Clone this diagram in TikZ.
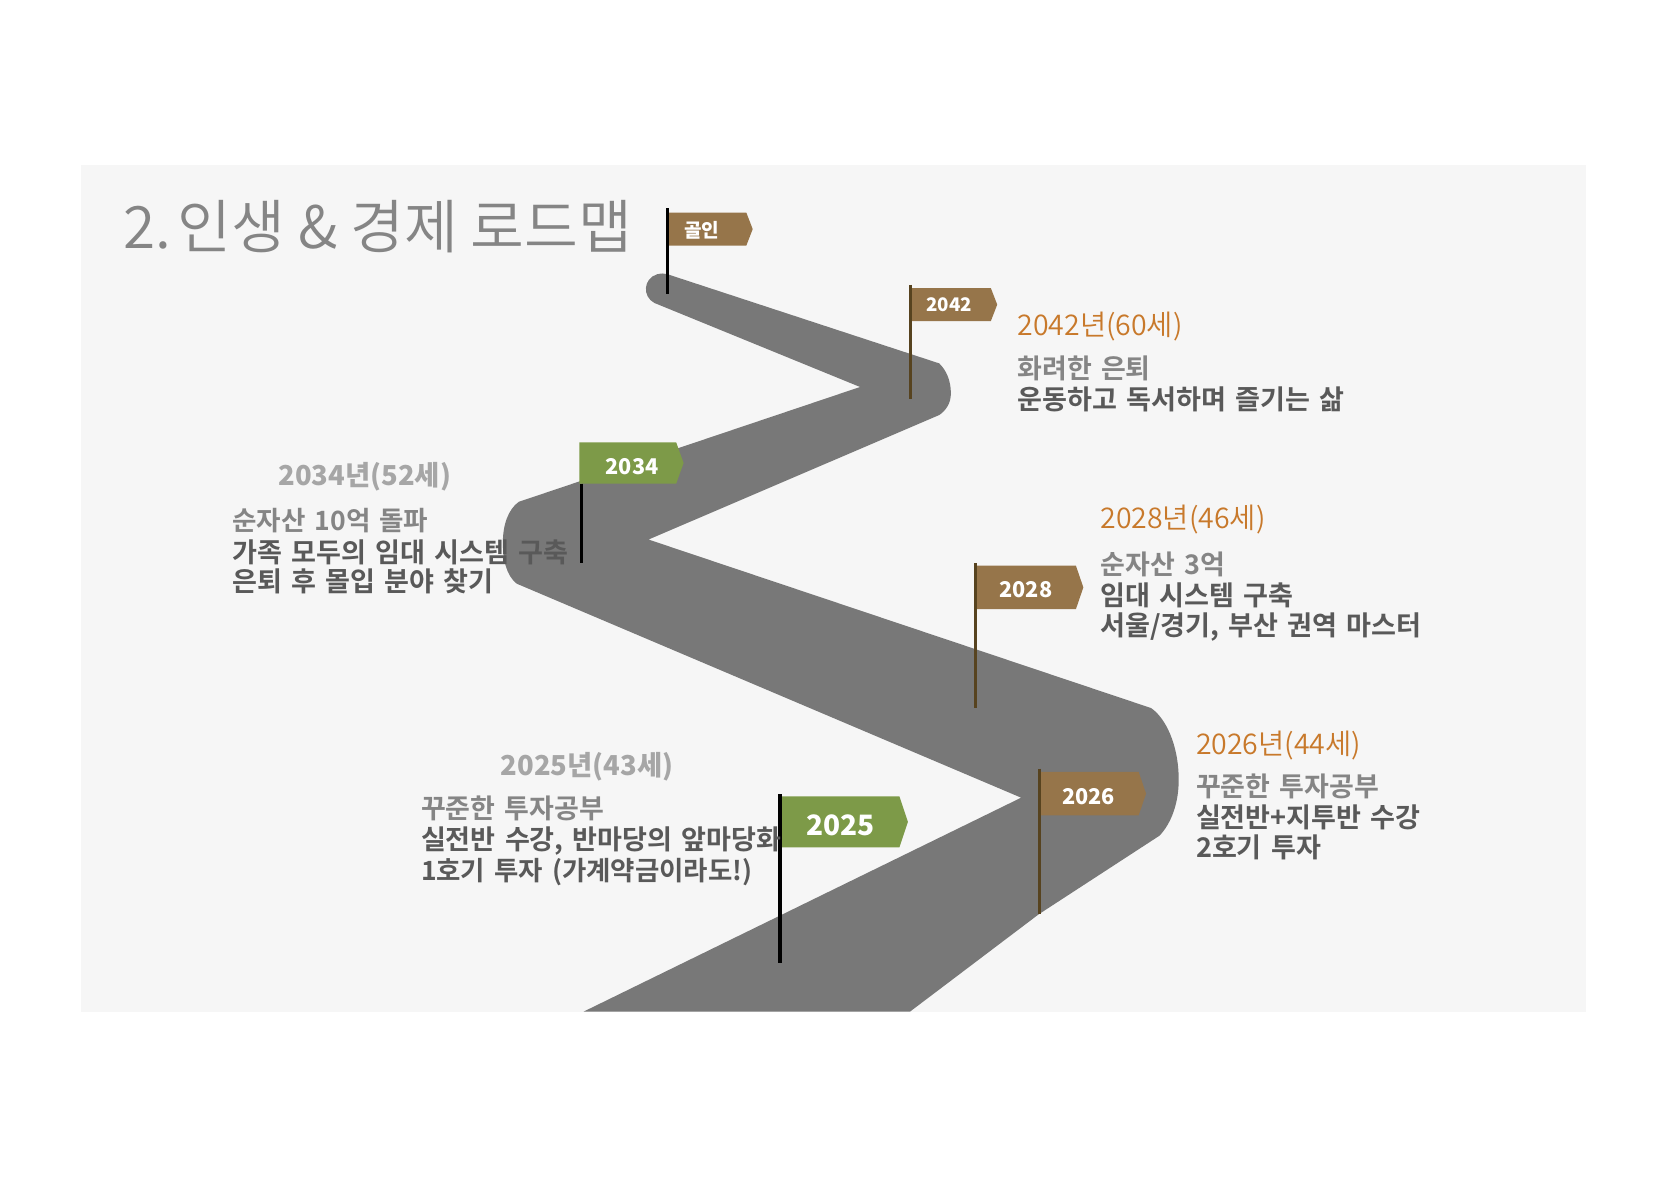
\documentclass[tikz,border=0pt]{standalone}
\usepackage{fontspec}
\setmainfont{Noto Sans CJK KR}
\newfontfamily\titlefont[WordSpace=0.25]{Noto Sans CJK KR DemiLight}
\newfontfamily\yearfont{Noto Sans CJK KR DemiLight}
\newfontfamily\bodyfont[WordSpace=1.5]{Noto Sans CJK KR Bold}
\definecolor{panelbg}{HTML}{F6F6F6}
\definecolor{roadgray}{HTML}{787878}
\definecolor{flagbrown}{HTML}{96754A}
\definecolor{flaggreen}{HTML}{7D9A48}
\definecolor{polebrown}{HTML}{57431F}
\definecolor{yearorange}{HTML}{C8792B}
\definecolor{yeargray}{HTML}{A6A6A6}
\definecolor{headgray}{HTML}{858585}
\definecolor{bodygray}{HTML}{595959}
\tikzset{
  txt/.style={anchor=base west,inner sep=0pt,outer sep=0pt},
  yearo/.style={txt,text=yearorange,font=\yearfont\fontsize{13.4}{13}\selectfont},
  yearg/.style={txt,text=yeargray,font=\fontsize{12.9}{13}\selectfont\bfseries},
  head/.style={txt,text=headgray,font=\bodyfont\fontsize{12.7}{13}\selectfont},
  body/.style={txt,text=bodygray,font=\bodyfont\fontsize{12.75}{13}\selectfont},
  flagtxt/.style={text=white,inner sep=0pt,font=\fontsize{10}{10}\selectfont\bfseries},
  polek/.style={draw=black,line width=1.5pt},
  poleb/.style={draw=polebrown,line width=1.5pt}
}
\begin{document}
\begin{tikzpicture}[x=0.5pt,y=-0.5pt]
\useasboundingbox (0,0) rectangle (1568,1108);
\fill[white] (0,0) rectangle (1568,1108);
\fill[panelbg] (76,155) rectangle (1492,951.5);
% road
\fill[roadgray] (549,951.5) -- (960.5,750.3) -- (486,549)
  .. controls (476,541) and (473,526) .. (473,510)
  .. controls (473,494) and (478,479) .. (488,472)
  -- (809,364) -- (615.6,285)
  .. controls (604,279) and (605,262) .. (618,258)
  .. controls (622,257) and (625,257) .. (628,258)
  -- (883.4,341.8)
  .. controls (890,348) and (894.4,358) .. (894.4,370)
  .. controls (894.4,379) and (890,386) .. (883.4,390.4)
  -- (610,507.5) -- (1082.7,666)
  .. controls (1096,675) and (1108.7,700) .. (1108.7,733.6)
  .. controls (1108.7,755) and (1102,774) .. (1090.7,786)
  -- (977,860) -- (856,951.5) -- cycle;
% title
\node[txt,text=headgray,font=\titlefont\fontsize{27.5}{27}\selectfont] (title) at (116,233.5) {2.\hspace{-5.2pt} 인생 \& 경제 로드맵};
% goal flag
\coordinate (p1a) at (627.5,196); \coordinate (p1b) at (627.5,277);
\fill[flagbrown] (628,200) -- (702,200) -- (708,215.5) -- (702,231) -- (628,231) -- cycle;
\draw[polek] (p1a) -- (p1b);
\node[flagtxt,font=\fontsize{9}{9}\selectfont\bfseries] (f1) at (660,217) {골인};
% 2042
\coordinate (p2a) at (856.5,268); \coordinate (p2b) at (856.5,375);
\fill[flagbrown] (857,271) -- (932,271) -- (938,286.5) -- (932,302) -- (857,302) -- cycle;
\draw[poleb] (p2a) -- (p2b);
\node[flagtxt,font=\fontsize{8.8}{9}\selectfont\bfseries] (f2) at (893,287) {2042};
% 2034
\coordinate (p3a) at (547,455); \coordinate (p3b) at (547,530);
\fill[flaggreen] (545,416) -- (636,416) -- (643,435.5) -- (636,455) -- (545,455) -- cycle;
\draw[polek] (p3a) -- (p3b);
\node[flagtxt,font=\fontsize{10.2}{10}\selectfont\bfseries] (f3) at (594.5,438.5) {2034};
% 2028
\coordinate (p4a) at (917.5,530); \coordinate (p4b) at (917.5,666);
\fill[flagbrown] (917,532) -- (1012,532) -- (1019,552.5) -- (1012,573) -- (917,573) -- cycle;
\draw[poleb] (p4a) -- (p4b);
\node[flagtxt,font=\fontsize{10.2}{10}\selectfont\bfseries] (f4) at (965,555) {2028};
% 2026
\coordinate (p5a) at (977.5,723); \coordinate (p5b) at (977.5,860);
\fill[flagbrown] (977,726) -- (1071,726) -- (1078,746.5) -- (1071,767) -- (977,767) -- cycle;
\draw[poleb] (p5a) -- (p5b);
\node[flagtxt,font=\fontsize{10.2}{10}\selectfont\bfseries] (f5) at (1024,749) {2026};
% 2025
\coordinate (p6a) at (734,747); \coordinate (p6b) at (734,906);
\fill[flaggreen] (735,749) -- (846,749) -- (854,773) -- (846,797) -- (735,797) -- cycle;
\draw[polek,line width=2pt] (p6a) -- (p6b);
\node[flagtxt,font=\fontsize{13.2}{14}\selectfont\bfseries] (f6) at (790.5,776.5) {2025};
% labels 2042
\node[yearo] (y42) at (957,315.5) {2042년(60세)};
\node[head] (h42) at (957,356) {화려한 은퇴};
\node[body] (b42) at (957,385.5) {운동하고 독서하며 즐기는 삶};
% labels 2028
\node[yearo] (y28) at (1035,497) {2028년(46세)};
\node[head] (h28) at (1035,540.5) {순자산 3억};
\node[body] (b28a) at (1035,570) {임대 시스템 구축};
\node[body] (b28b) at (1035,597.5) {서울/경기, 부산 권역 마스터};
% labels 2026
\node[yearo] (y26) at (1125,709.5) {2026년(44세)};
\node[head] (h26) at (1125,749.5) {꾸준한 투자공부};
\node[body] (b26a) at (1125,778.5) {실전반+지투반 수강};
\node[body] (b26b) at (1125,806.5) {2호기 투자};
% labels 2034
\node[yearg] (y34) at (262,457) {2034년(52세)};
\node[head,font=\bodyfont\fontsize{12.5}{13}\selectfont] (h34) at (218.5,499) {순자산 10억 돌파};
\node[body] (b34a) at (218.5,529) {가족 모두의 임대 시스템 구축};
\node[body] (b34b) at (218.5,556.5) {은퇴 후 몰입 분야 찾기};
% labels 2025
\node[yearg] (y25) at (471,729.5) {2025년(43세)};
\node[head] (h25) at (396,769.5) {꾸준한 투자공부};
\node[body] (b25a) at (396,799.5) {실전반 수강, 반마당의 앞마당화};
\node[body,font=\bodyfont\fontsize{12.45}{13}\selectfont] (b25b) at (396,828) {1호기 투자 (가계약금이라도!)};
\end{tikzpicture}
\end{document}
